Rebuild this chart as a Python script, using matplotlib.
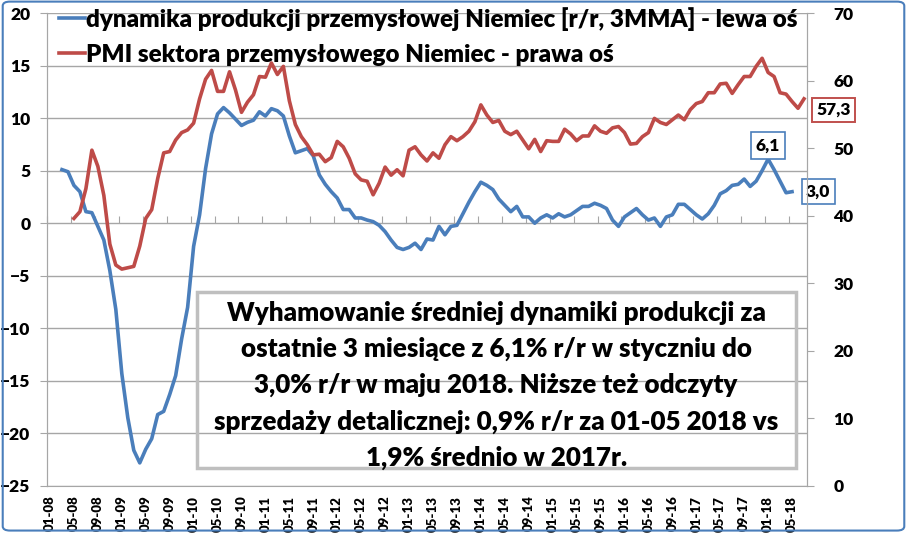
import numpy as np
import pandas as pd
import matplotlib
matplotlib.use("Agg")
import matplotlib.pyplot as plt
from matplotlib.patches import Rectangle, FancyBboxPatch

plt.rcParams["font.family"] = ["Lato", "DejaVu Sans"]
plt.rcParams["font.weight"] = "heavy"

# monthly categories 01-08 .. 07-18
months = pd.period_range("2008-01", "2018-07", freq="M")
tick_labels = ["01-08", "05-08", "09-08", "01-09", "05-09", "09-09", "01-10", "05-10",
               "09-10", "01-11", "05-11", "09-11", "01-12", "05-12", "09-12", "01-13",
               "05-13", "09-13", "01-14", "05-14", "09-14", "01-15", "05-15", "09-15",
               "01-16", "05-16", "09-16", "01-17", "05-17", "09-17", "01-18", "05-18"]

# industrial production y/y, 3MMA (left axis), from 03-08 to 05-18
prod_start = "2008-03"
prod = [5.1, 4.9, 3.6, 3.0, 1.1, 1.0, -0.3, -1.6, -4.5, -8.2,
        -14.3, -18.5, -21.6, -22.8, -21.5, -20.5, -18.2, -17.9, -16.3, -14.5,
        -11.0, -8.0, -2.2, 0.8, 5.2, 8.5, 10.4, 11.0, 10.5, 9.9,
        9.3, 9.6, 9.8, 10.6, 10.2, 10.9, 10.7, 10.2, 8.3, 6.7,
        6.9, 7.1, 6.4, 4.6, 3.7, 3.0, 2.4, 1.3, 1.3, 0.5,
        0.5, 0.3, 0.15, -0.2, -0.8, -1.6, -2.3, -2.5, -2.3, -1.9,
        -2.5, -1.5, -1.6, -0.3, -1.1, -0.3, -0.2, 0.9, 2.0, 3.0,
        3.9, 3.6, 3.2, 2.3, 1.7, 1.1, 1.6, 0.6, 0.6, 0.0,
        0.5, 0.8, 0.5, 0.9, 0.6, 0.8, 1.2, 1.6, 1.6, 1.9,
        1.7, 1.4, 0.3, -0.3, 0.6, 1.0, 1.4, 0.8, 0.3, 0.5,
        -0.3, 0.6, 0.8, 1.8, 1.8, 1.3, 0.8, 0.4, 0.9, 1.7,
        2.8, 3.1, 3.6, 3.7, 4.2, 3.5, 4.0, 5.0, 6.1, 5.1,
        4.0, 2.9, 3.0]

# manufacturing PMI (right axis), from 05-08 to 07-18
pmi_start = "2008-05"
pmi = [39.6, 40.6, 44.0, 49.7, 47.3, 43.0, 35.8, 32.7, 32.1, 32.3,
       32.5, 35.5, 39.6, 40.9, 45.5, 49.3, 49.5, 51.2, 52.3, 52.7,
       53.7, 57.3, 60.2, 61.5, 58.4, 58.4, 61.3, 58.6, 55.3, 56.8,
       57.9, 60.6, 60.5, 62.6, 60.9, 62.1, 57.0, 53.5, 51.7, 50.5,
       49.0, 49.1, 48.0, 48.6, 51.0, 50.2, 48.5, 46.2, 45.3, 45.1,
       43.1, 44.8, 47.2, 46.0, 46.8, 45.9, 49.7, 50.2, 49.0, 48.1,
       49.3, 48.5, 50.5, 51.7, 51.1, 51.7, 52.5, 53.9, 56.4, 54.9,
       53.8, 54.1, 52.5, 52.0, 52.5, 51.2, 49.9, 51.3, 49.5, 51.1,
       51.0, 51.0, 52.8, 52.1, 51.1, 51.8, 51.8, 53.3, 52.5, 52.2,
       53.0, 53.2, 52.3, 50.6, 50.7, 51.7, 52.3, 54.4, 53.8, 53.5,
       54.2, 54.9, 54.2, 55.7, 56.6, 56.9, 58.2, 58.2, 59.5, 59.6,
       58.1, 59.4, 60.6, 60.6, 62.1, 63.3, 61.2, 60.6, 58.2, 58.0,
       56.9, 55.9, 57.3]

blue = "#4a7ebb"
red = "#be4b48"
grid = "#a6a6a6"
wt = "heavy"

x_prod = np.arange(len(prod)) + months.get_loc(pd.Period(prod_start, "M"))
x_pmi = np.arange(len(pmi)) + months.get_loc(pd.Period(pmi_start, "M"))

fig = plt.figure(figsize=(9.07, 5.37), dpi=100)
ax = fig.add_axes([47 / 907, 1 - 486 / 537, 760 / 907, 473 / 537])
ax2 = ax.twinx()

l1, = ax.plot(x_prod, prod, color=blue, lw=2.6, solid_joinstyle="round")
l2, = ax2.plot(x_pmi, pmi, color=red, lw=2.6, solid_joinstyle="round")

ax.set_xlim(-0.5, len(months) - 0.5)
ax.set_ylim(-25, 20)
ax2.set_ylim(0, 70)
ax.set_yticks(np.arange(-25, 21, 5))
ax2.set_yticks(np.arange(0, 71, 10))
ax.yaxis.grid(True, color=grid, lw=1)
ax.set_axisbelow(True)

tick_pos = [months.get_loc(pd.Period("20" + t[3:] + "-" + t[:2], "M")) for t in tick_labels]
ax.set_xticks(tick_pos)
ax.set_xticklabels(tick_labels, rotation=90, fontsize=9.5, fontweight=wt)
ax.tick_params(axis="x", length=0, pad=7)
ax.tick_params(axis="y", labelsize=12.5, length=5, color=grid, pad=7)
ax2.tick_params(axis="y", labelsize=12.5, length=5, color=grid, pad=14)
for lab in ax.get_yticklabels() + ax2.get_yticklabels():
    lab.set_fontweight(wt)

for a in (ax, ax2):
    a.spines["top"].set_visible(False)
    for s in ("left", "right", "bottom"):
        a.spines[s].set_color(grid)
ax2.spines["bottom"].set_visible(False)

# category axis crossing at 0 with tick marks between groups
sec = ax.secondary_xaxis(25 / 45)
sec.set_xticks(np.arange(-0.5, len(months), 4))
sec.tick_params(axis="x", length=5, color=grid, labelbottom=False, labeltop=False,
                direction="out")
sec.spines["bottom"].set_color(grid)
sec.spines["top"].set_visible(False)

fig.legend([l1, l2],
           ["dynamika produkcji przemysłowej Niemiec [r/r, 3MMA] - lewa oś",
            "PMI sektora przemysłowego Niemiec - prawa oś"],
           loc="upper left", bbox_to_anchor=(49 / 907, 1 + 3 / 537), frameon=False,
           handlelength=1.1, handletextpad=0.05, labelspacing=0.55,
           borderaxespad=0, prop={"weight": wt, "size": 17.4})

# value labels
ax.annotate("6,1", (x_prod[-5], prod[-5]), xytext=(0, 4), textcoords="offset points",
            ha="center", va="bottom", fontsize=12.5, fontweight=wt,
            bbox=dict(boxstyle="square,pad=0.3", fc="white", ec=blue, lw=1.2))
ax.annotate("3,0", (x_prod[-1], prod[-1]), xytext=(10, 0), textcoords="offset points",
            ha="left", va="center", fontsize=12.5, fontweight=wt,
            bbox=dict(boxstyle="square,pad=0.25", fc="white", ec=blue, lw=1.2),
            annotation_clip=False)
ax2.annotate("57,3", (x_pmi[-1], pmi[-1]), xytext=(9, -8), textcoords="offset points",
             ha="left", va="center", fontsize=12.5, fontweight=wt,
             bbox=dict(boxstyle="square,pad=0.25", fc="white", ec="#c0504d", lw=1.4),
             annotation_clip=False)

# comment box
ax.add_patch(Rectangle((0.197, 0.038), 0.7885, 0.372, transform=ax.transAxes,
                       fill=False, ec="#bfbfbf", lw=2.5, zorder=5))
ax.text(0.591, 0.213,
        "Wyhamowanie średniej dynamiki produkcji za\n"
        "ostatnie 3 miesiące z 6,1% r/r w styczniu do\n"
        "3,0% r/r w maju 2018. Niższe też odczyty\n"
        "sprzedaży detalicznej: 0,9% r/r za 01-05 2018 vs\n"
        "1,9% średnio w 2017r.",
        transform=ax.transAxes, ha="center", va="center", multialignment="center",
        fontsize=18.7, fontweight=wt, linespacing=1.6, zorder=6)

fig.patches.append(FancyBboxPatch((0.003, 0.012), 0.994, 0.985,
                                  boxstyle="round,pad=0,rounding_size=0.008",
                                  transform=fig.transFigure, fill=False,
                                  ec=blue, lw=1.5))

fig.savefig("out.png", dpi=100)
